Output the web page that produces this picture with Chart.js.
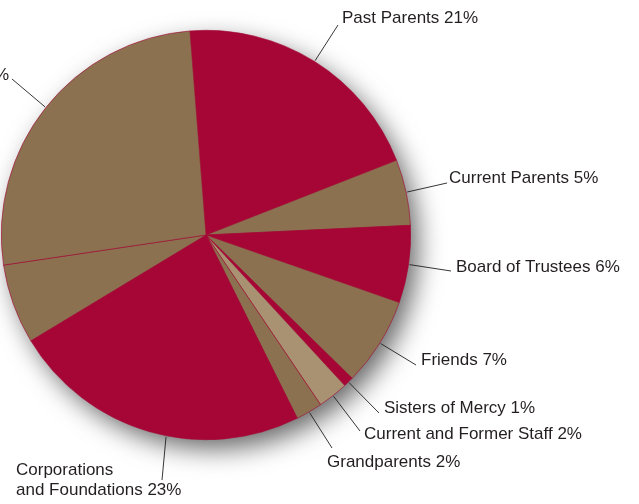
<!DOCTYPE html>
<html>
<head>
<meta charset="utf-8">
<script src="https://cdn.jsdelivr.net/npm/chart.js@4.4.1/dist/chart.umd.min.js"></script>
<style>
  html, body { margin: 0; padding: 0; background: #fff; }
  #wrap { width: 639px; height: 504px; position: relative; overflow: hidden; }
</style>
</head>
<body>
<div id="wrap"><canvas id="pie"></canvas></div>
<script>
// slice names, in clockwise order from the top
const categories = ['Past Parents', 'Current Parents', 'Board of Trustees', 'Friends',
  'Sisters of Mercy', 'Current and Former Staff', 'Grandparents',
  'Corporations and Foundations', 'Parents of Alumnae', 'Alumnae'];
// printed percentages
const percents = [21, 5, 6, 7, 1, 2, 2, 23, 7, 26];
// slice sizes (share of the circle)
const shares = [20.3, 5.2, 6.1, 7.0, 0.8, 2.4, 2.1, 23.7, 6.3, 26.1];

const RED = '#a50636';
const BROWN = '#8b7150';
const TAN = '#a99272';
const sliceColors = [RED, BROWN, RED, BROWN, RED, TAN, BROWN, RED, BROWN, BROWN];

// label placement: text anchor and leader end, per slice
const labelLayout = [
  { x: 342, y: 18, align: 'left', lx: 338, ly: 25 },
  { x: 449, y: 178, align: 'left', lx: 447, ly: 183 },
  { x: 456, y: 267, align: 'left', lx: 451, ly: 271 },
  { x: 421, y: 360, align: 'left', lx: 416, ly: 365 },
  { x: 384, y: 408, align: 'left', lx: 379, ly: 413 },
  { x: 364, y: 434, align: 'left', lx: 360, ly: 431 },
  { x: 327, y: 462, align: 'left', lx: 332, ly: 448 },
  { x: 16, y: 470, align: 'left', lx: 162, ly: 480, twoLine: true, angleShift: -5 },
  null,
  { x: 9, y: 75, align: 'right', lx: 12, ly: 79 }
];

const shadowPlugin = {
  id: 'pieShadow',
  beforeDatasetsDraw(chart) {
    const arc = chart.getDatasetMeta(0).data[0];
    const ctx = chart.ctx;
    ctx.save();
    ctx.shadowColor = 'rgba(0,0,0,0.6)';
    ctx.shadowBlur = 26;
    ctx.shadowOffsetX = 8;
    ctx.shadowOffsetY = 10;
    ctx.fillStyle = BROWN;
    ctx.beginPath();
    ctx.arc(arc.x, arc.y, arc.outerRadius - 1, 0, Math.PI * 2);
    ctx.fill();
    ctx.restore();
  }
};

const labelPlugin = {
  id: 'leaderLabels',
  afterDraw(chart) {
    const ctx = chart.ctx;
    const arcs = chart.getDatasetMeta(0).data;
    ctx.save();
    ctx.font = '17px "Liberation Sans", Arial, sans-serif';
    ctx.fillStyle = '#231f20';
    ctx.strokeStyle = '#231f20';
    ctx.lineWidth = 0.9;
    ctx.textBaseline = 'middle';
    arcs.forEach((arc, i) => {
      const lay = labelLayout[i];
      if (!lay) return;
      let mid = (arc.startAngle + arc.endAngle) / 2;
      if (lay.angleShift) mid += lay.angleShift * Math.PI / 180;
      const sx = arc.x + Math.cos(mid) * (arc.outerRadius + 1);
      const sy = arc.y + Math.sin(mid) * (arc.outerRadius + 1);
      ctx.beginPath();
      ctx.moveTo(sx, sy);
      ctx.lineTo(lay.lx, lay.ly);
      ctx.stroke();
      ctx.textAlign = lay.align;
      if (lay.twoLine) {
        const words = categories[i].split(' and ');
        ctx.fillText(words[0], lay.x, lay.y);
        ctx.fillText('and ' + words[1] + ' ' + percents[i] + '%', lay.x, lay.y + 20);
      } else {
        ctx.fillText(categories[i] + ' ' + percents[i] + '%', lay.x, lay.y);
      }
    });
    ctx.restore();
  }
};

new Chart(document.getElementById('pie'), {
  type: 'pie',
  data: {
    labels: categories,
    datasets: [{
      data: shares,
      backgroundColor: sliceColors,
      borderColor: RED,
      borderWidth: 0.6
    }]
  },
  options: {
    responsive: true,
    maintainAspectRatio: false,
    animation: false,
    rotation: -4.5,
    layout: { padding: { left: 1, top: 30, right: 228, bottom: 64 } },
    plugins: {
      legend: { display: false },
      tooltip: { enabled: false }
    }
  },
  plugins: [shadowPlugin, labelPlugin]
});
</script>
</body>
</html>
